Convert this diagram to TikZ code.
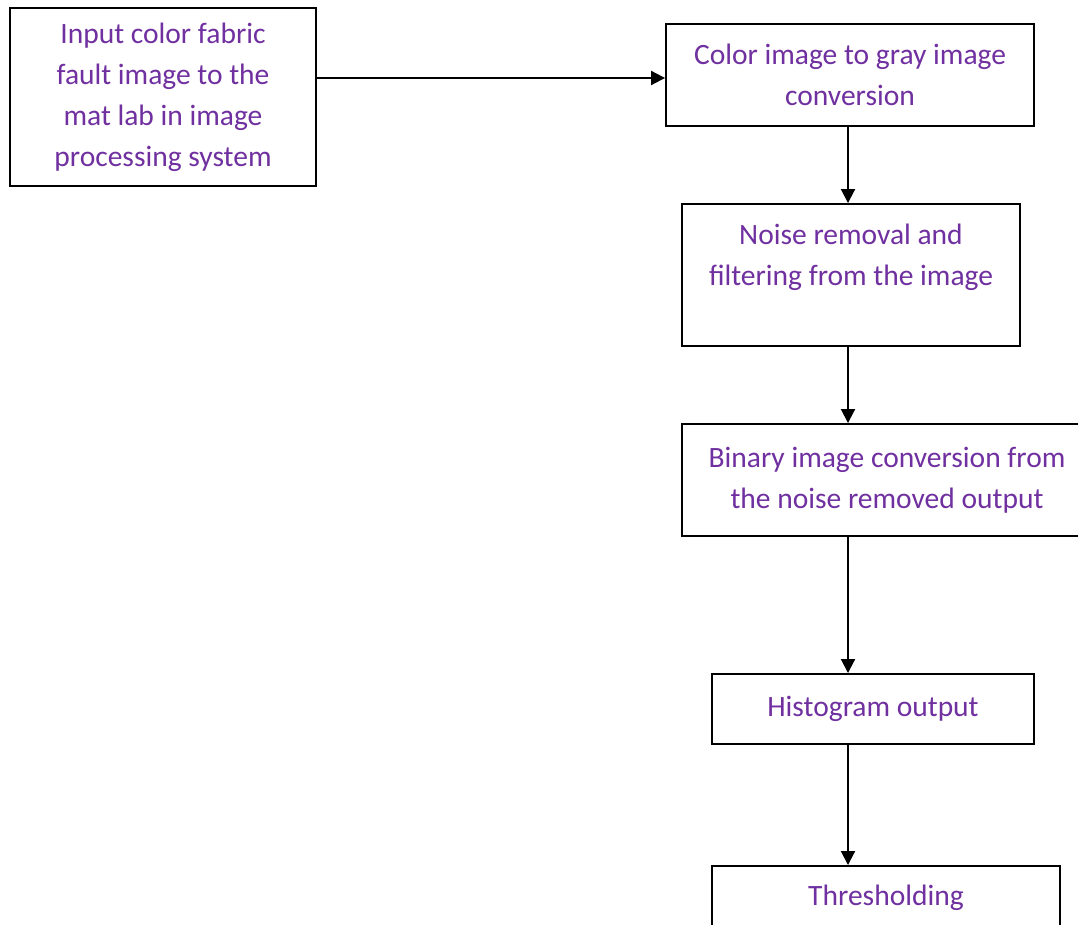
\documentclass[tikz,border=0pt]{standalone}
\usepackage{fontspec}
\setmainfont{Carlito}
\usepackage{tikz}
\usetikzlibrary{arrows.meta,calc}
\definecolor{txtpurple}{HTML}{7030A0}
\newcommand{\lw}{1.1pt}

\begin{document}
\begin{tikzpicture}[x=0.02cm,y=-0.02cm,
  box/.style={draw=black,line width=\lw,fill=white,align=center,inner sep=0pt,
    text=txtpurple,font=\fontsize{16.8}{23.3}\selectfont},
  flow/.style={line width=\lw,-{Triangle[length=0.28cm,width=0.28cm]}}]
\useasboundingbox (0,0) rectangle (1078,925);
\coordinate (spine) at (848,0);
\node[box,minimum width=6.12cm,minimum height=3.56cm] (input) at (163,97)
  {Input color fabric\\fault image to the\\mat lab in image\\processing system};
\node[box,minimum width=7.36cm,minimum height=2.04cm] (gray) at (850,75)
  {Color image to gray image\\conversion};
\node[box,minimum width=6.76cm,minimum height=2.84cm] (noise) at (851,275)
  {Noise removal and\\filtering from the image\\\mbox{}};
\node[box,minimum width=8.2cm,minimum height=2.24cm] (binary) at (887,480)
  {Binary image conversion from\\the noise removed output};
\node[box,minimum width=6.44cm,minimum height=1.4cm] (hist) at (873,709)
  {Histogram output};
\node[box,minimum width=6.96cm,minimum height=1.28cm] (thresh) at (886,898)
  {Thresholding};

\draw[flow] ([yshift=-0.06cm]input.east |- gray.west) -- ([yshift=-0.06cm]gray.west);
\draw[flow] (gray.south -| spine) -- (noise.north -| spine);
\draw[flow] (noise.south -| spine) -- (binary.north -| spine);
\draw[flow] (binary.south -| spine) -- (hist.north -| spine);
\draw[flow] (hist.south -| spine) -- (thresh.north -| spine);
\end{tikzpicture}
\end{document}
